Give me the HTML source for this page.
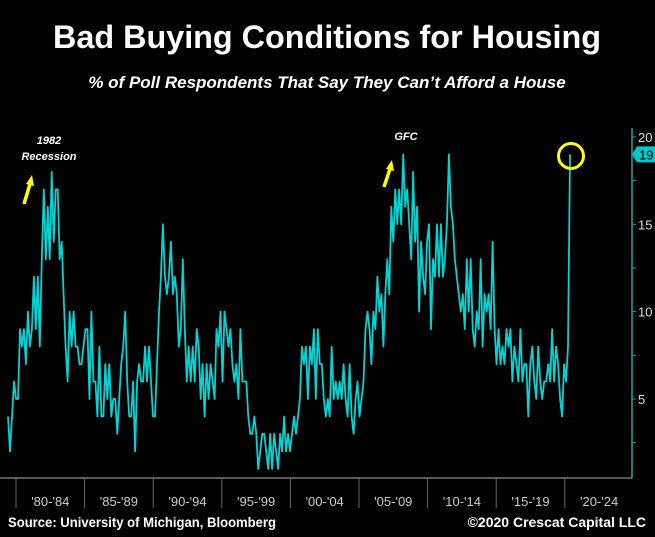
<!DOCTYPE html>
<html><head><meta charset="utf-8"><style>
html,body{margin:0;padding:0;background:#000;}
body{width:655px;height:532px;overflow:hidden;font-family:"Liberation Sans",sans-serif;}
</style></head><body>
<svg width="655" height="532" viewBox="0 0 655 532" xmlns="http://www.w3.org/2000/svg">
<rect width="655" height="532" fill="#000"/>
<text x="327" y="48" text-anchor="middle" fill="#fff" font-size="32" font-weight="bold" textLength="548" lengthAdjust="spacingAndGlyphs">Bad Buying Conditions for Housing</text>
<text x="327" y="88" text-anchor="middle" fill="#fff" font-size="17" font-weight="bold" font-style="italic">% of Poll Respondents That Say They Can’t Afford a House</text>
<g id="axes"></g>
<path id="series" fill="none" stroke="#00d4d4" stroke-width="1.8" stroke-linejoin="round"/>
<circle cx="571" cy="156" r="12.5" fill="none" stroke="#ffff00" stroke-width="3"/>
<text x="49" y="144" text-anchor="middle" fill="#fff" font-size="11" font-weight="bold" font-style="italic">1982</text>
<text x="49" y="160" text-anchor="middle" fill="#fff" font-size="11" font-weight="bold" font-style="italic">Recession</text>
<g>
<line x1="24" y1="204" x2="30" y2="184" stroke="#ffff00" stroke-width="3.5"/>
<polygon points="26,184 34,186 32,175" fill="#ffff00"/>
</g>
<text x="406" y="140" text-anchor="middle" fill="#fff" font-size="11" font-weight="bold" font-style="italic">GFC</text>
<g>
<line x1="384" y1="187" x2="390" y2="169" stroke="#ffff00" stroke-width="3.5"/>
<polygon points="386,169 394,171 392,160" fill="#ffff00"/>
</g>
<text x="8" y="527" fill="#fff" font-size="14" font-weight="bold" textLength="268" lengthAdjust="spacingAndGlyphs">Source: University of Michigan, Bloomberg</text>
<text x="646" y="527" text-anchor="end" fill="#fff" font-size="14" font-weight="bold">©2020 Crescat Capital LLC</text>
</svg>
<script>
const values = [4,2,4,6,5,5,9,8,9,7,10,8,9,12,9,12,8,13,17,13,16,13,18,14,17,17,13,14,11,8,6,10,8,10,8,8,7,7,8,9,9,5,10,6,6,4,8,4,4,7,5,7,4,5,5,3,5,7,8,10,6,4,4,6,2,6,7,6,6,8,6,8,6,4,4,7,10,12,15,12,11,12,14,11,12,11,8,9,13,9,6,8,6,8,6,9,8,5,7,4,7,5,7,6,5,9,8,10,6,10,9,8,9,7,6,7,5,9,6,6,6,4,3,3,4,3,1,2,3,3,2,1,3,1,3,2,1,3,2,4,2,3,2,3,4,3,4,5,8,7,8,5,8,7,9,5,9,7,7,5,4,
5,4,8,5,6,5,6,5,7,5,4,7,4,3,5,6,4,5,6,9,10,9,7,10,9,12,10,11,8,11,13,11,16,14,17,15,17,15,19,16,17,15,13,18,14,16,10,14,12,11,14,15,9,13,12,15,12,15,12,13,15,19,16,15,13,12,11,10,11,9,13,10,13,9,8,10,9,13,8,11,10,11,9,14,9,7,9,7,8,7,9,8,9,6,8,7,6,9,6,7,7,4,7,8,6,5,8,6,5,6,6,7,6,9,6,8,7,5,4,7,6,8,19];
const startYear = 1979.42, endYear = 2020.38;
const yTicks = [5,10,15,20];
const xLabels = ["'80-'84","'85-'89","'90-'94","'95-'99","'00-'04","'05-'09","'10-'14","'15-'19","'20-'24"];
const periodStarts = [1980,1985,1990,1995,2000,2005,2010,2015,2020];
const lastValue = 19;

const NS = "http://www.w3.org/2000/svg";
const xS = yr => 16 + (yr - 1980) * 13.72;
const yS = v => 399 - (v - 5) * 17.47;
const axes = document.getElementById('axes');
function mk(tag, attrs){const e=document.createElementNS(NS,tag);for(const k in attrs)e.setAttribute(k,attrs[k]);axes.appendChild(e);return e;}

let e = mk('line',{x1:0,y1:478,x2:632,y2:478,stroke:'#777','stroke-width':1.5});


e = mk('line',{x1:632,y1:128,x2:632,y2:478,stroke:'#1aa7a7','stroke-width':1.5});



periodStarts.forEach((p,i)=>{
  const x = xS(p);
  const t = mk('line',{x1:x,y1:478,x2:x,y2:508,stroke:'#666','stroke-width':1});
  
  
  const l = mk('text',{x:xS(p+2.5),y:506,'text-anchor':'middle',fill:'#ccc','font-size':13});
  l.textContent = xLabels[i];
  
  
});
for(let v=2.5; v<=20; v+=2.5){
  const y=yS(v);
  const t = mk('line',{x1:632,y1:y,x2:636,y2:y,stroke:'#1aa7a7','stroke-width':1});
  
  
}
yTicks.forEach(v=>{
  const l = mk('text',{x:638,y:yS(v)+5,fill:'#ddd','font-size':13});
  l.textContent = v;
  
  
});
const ty = yS(lastValue);
const tag = mk('path',{d:`M632,${ty} L637,${ty-8} L655,${ty-8} L655,${ty+8} L637,${ty+8} Z`,fill:'#00c8c8'});


const tt = mk('text',{x:639,y:ty+5,fill:'#000','font-size':13});
tt.textContent = lastValue;



const n = values.length;
let d = '';
values.forEach((v,i)=>{
  const yr = startYear + (endYear-startYear)*i/(n-1);
  d += (i?'L':'M') + xS(yr).toFixed(1) + ',' + yS(v).toFixed(1);
});
document.getElementById('series').setAttribute('d', d);
</script>
</body></html>
